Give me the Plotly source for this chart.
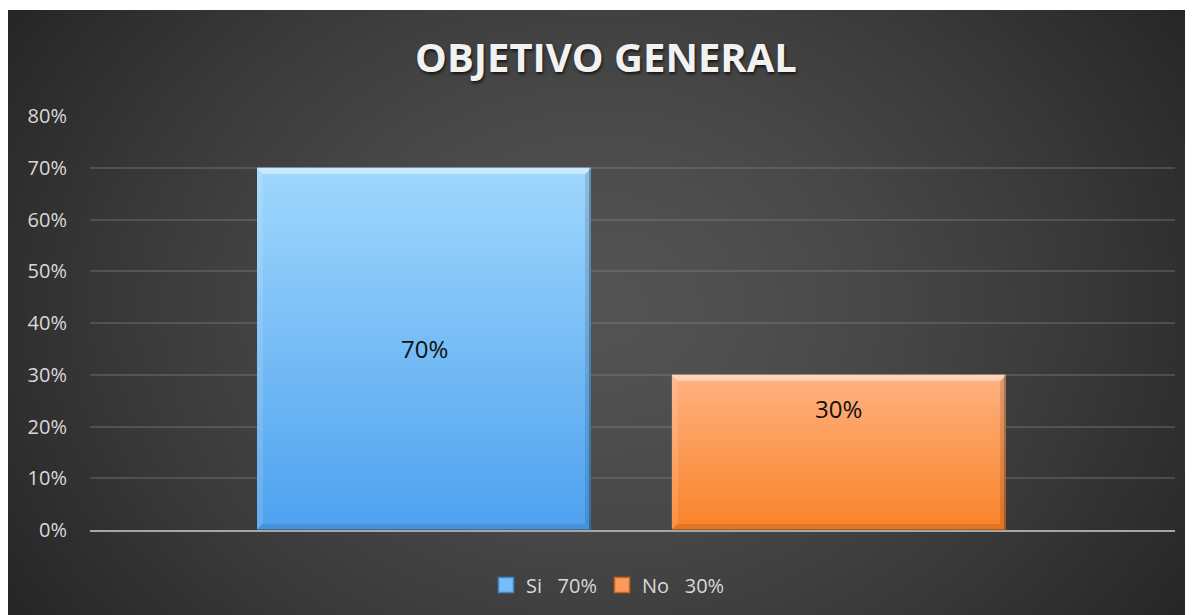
import base64, struct, zlib
import numpy as np
import plotly.graph_objects as go

# ---------------- data ----------------
series_names = ["Si\u00a0\u00a0 70%", "No\u00a0\u00a0 30%"]
values = [0.70, 0.30]
label_texts = ["70%", "30%"]
y_ticks = [0, 0.1, 0.2, 0.3, 0.4, 0.5, 0.6, 0.7, 0.8]
y_tick_labels = ["0%", "10%", "20%", "30%", "40%", "50%", "60%", "70%", "80%"]
title_text = "OBJETIVO GENERAL"

# ---------------- style ----------------
W, H = 1193, 615
ML, MR, MT, MB = 82, 26, 108, 93
bar_width = 0.805
x_range = [-0.805, 1.81]
label_frac = [0.50, 0.785]
top_colors = [(160, 216, 253), (255, 178, 130)]
bot_colors = [(78, 162, 240), (250, 131, 40)]
mid_colors = ["#79bdf8", "#fd9a5a"]
legend_line = ["#3f86c8", "#c8651f"]


def png_uri(arr):
    arr = np.ascontiguousarray(arr.astype(np.uint8))
    h, w, _ = arr.shape
    raw = b"".join(b"\x00" + arr[r].tobytes() for r in range(h))

    def chunk(t, d):
        c = struct.pack(">I", len(d)) + t + d
        return c + struct.pack(">I", zlib.crc32(t + d) & 0xFFFFFFFF)

    png = b"\x89PNG\r\n\x1a\n" + chunk(b"IHDR", struct.pack(">IIBBBBB", w, h, 8, 2, 0, 0, 0))
    png += chunk(b"IDAT", zlib.compress(raw, 9)) + chunk(b"IEND", b"")
    return "data:image/png;base64," + base64.b64encode(png).decode()


def background():
    bw, bh = 597, 307
    yy, xx = np.mgrid[0:bh, 0:bw].astype(float)
    xx = xx * 2
    yy = yy * 2 + 2
    d = np.sqrt(((xx - 592) / 700) ** 2 + ((yy - 300) / 560) ** 2)
    d = np.clip(d, 0, 1) ** 1.4
    v = 84 - (84 - 38) * d
    return np.stack([v, v, v], axis=-1)


def bevel_bar(top, bot, h, w=334, b=6):
    yy, xx = np.mgrid[0:h, 0:w].astype(float)
    t = yy / max(h - 1, 1)
    top = np.array(top, float)
    bot = np.array(bot, float)
    img = top[None, None, :] * (1 - t[..., None]) + bot[None, None, :] * t[..., None]
    dt, db, dl, dr = yy, h - 1 - yy, xx, w - 1 - xx
    dmin = np.minimum(np.minimum(dt, db), np.minimum(dl, dr))
    white = np.array([255, 255, 255], float)
    black = np.array([0, 0, 0], float)
    m_top = (dt == dmin) & (dt < b)
    m_bot = (db == dmin) & (db < b) & ~m_top
    m_left = (dl == dmin) & (dl < b) & ~m_top & ~m_bot
    m_right = (dr == dmin) & (dr < b) & ~m_top & ~m_bot & ~m_left
    img[m_top] = img[m_top] * 0.55 + white * 0.45
    img[m_left] = img[m_left] * 0.88 + white * 0.12
    img[m_right] = img[m_right] * 0.88 + black * 0.12
    img[m_bot] = img[m_bot] * 0.9 + black * 0.1
    edge = (dr < 1.5) | (db < 1)
    img[edge] = img[edge] * 0.75
    return np.clip(img, 0, 255)


fig = go.Figure()
pw = W - ML - MR
ph = H - MT - MB
px_per_unit = ph / 0.8
images = [dict(source=png_uri(background()), xref="paper", yref="paper",
               x=-ML / pw, y=(H - MB - 2) / ph,
               sizex=W / pw, sizey=(H - 2) / ph,
               xanchor="left", yanchor="top", sizing="stretch", layer="below")]
annotations = []
for i, (name, v) in enumerate(zip(series_names, values)):
    fig.add_trace(go.Bar(x=[i], y=[v], width=bar_width, name=name,
                         marker=dict(color=mid_colors[i], line=dict(width=0)),
                         hoverinfo="skip", showlegend=False))
    # legend entry with a larger square swatch
    fig.add_trace(go.Scatter(x=[None], y=[None], mode="markers", name=name,
                             marker=dict(symbol="square", size=15, color=mid_colors[i],
                                         line=dict(color=legend_line[i], width=1.5)),
                             hoverinfo="skip"))
    hpx = max(int(round(v * px_per_unit)), 12)
    images.append(dict(source=png_uri(bevel_bar(top_colors[i], bot_colors[i], hpx)),
                       xref="x", yref="y", x=i - bar_width / 2, y=v,
                       sizex=bar_width, sizey=v, xanchor="left", yanchor="top",
                       sizing="stretch", layer="above"))
    annotations.append(dict(x=i, y=v * label_frac[i], xref="x", yref="y",
                            text=label_texts[i], showarrow=False,
                            font=dict(family="Open Sans", size=24, color="#111111")))

fig.update_layout(
    width=W, height=H,
    margin=dict(l=ML, r=MR, t=MT, b=MB),
    paper_bgcolor="white", plot_bgcolor="rgba(0,0,0,0)",
    images=images, annotations=annotations,
    barmode="overlay",
    title=dict(text="<b>" + title_text + "</b>", x=598 / W, xanchor="center",
               y=1 - 50 / H, yanchor="middle",
               font=dict(family="Open Sans", size=40, color="#f2f2f2",
                         shadow="1px 2px 3px rgba(0,0,0,0.7)")),
    showlegend=True,
    legend=dict(orientation="h", x=(600 - ML) / pw, xanchor="center",
                y=-(577 - (H - MB)) / ph, yanchor="middle",
                font=dict(family="Open Sans", size=20, color="#d9d9d9"),
                bgcolor="rgba(0,0,0,0)", itemclick=False, itemdoubleclick=False,
                itemwidth=30),
    xaxis=dict(range=x_range, showticklabels=False, showgrid=False, zeroline=False,
               showline=True, linecolor="#a6a6a6", linewidth=2, ticks="",
               fixedrange=True),
    yaxis=dict(range=[0, 0.8], tickvals=y_ticks, ticktext=y_tick_labels,
               showgrid=True, gridcolor="rgba(140,140,140,0.32)", gridwidth=2,
               zeroline=False, showline=False, ticks="",
               ticklabelstandoff=22,
               tickfont=dict(family="Open Sans", size=20, color="#d9d9d9"),
               fixedrange=True),
)

fig.write_html("out.html")
